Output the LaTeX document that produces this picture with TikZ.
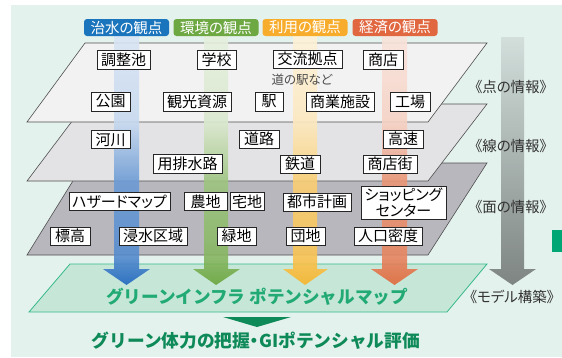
\documentclass[tikz,border=0pt]{standalone}
\usepackage{fontspec}
\setmainfont{Noto Sans CJK JP}
\newfontfamily\jpp{Noto Sans CJK JP}[RawFeature=+palt]
\definecolor{mint}{HTML}{E4F2EE}
\definecolor{cblue}{HTML}{1E66BE}
\definecolor{cgreen}{HTML}{6AA53C}
\definecolor{corange}{HTML}{F7B52A}
\definecolor{cred}{HTML}{E0683A}
\definecolor{lblue}{HTML}{1B75BC}
\definecolor{lgreen}{HTML}{6EA843}
\definecolor{lorange}{HTML}{F8AC2C}
\definecolor{lred}{HTML}{E0673F}
\definecolor{layA}{HTML}{F2F2F2}
\definecolor{layB}{HTML}{E3E3E5}
\definecolor{layC}{HTML}{B8B7BD}
\definecolor{edge}{HTML}{4E4E4E}
\definecolor{mapfill}{HTML}{C6E7D8}
\definecolor{mapedge}{HTML}{35B98A}
\definecolor{maptext}{HTML}{22AA74}
\definecolor{deepgreen}{HTML}{0E8A58}
\definecolor{blockgreen}{HTML}{00A673}
\definecolor{labtext}{HTML}{333333}
\pgfdeclareverticalshading{bandblue}{100bp}{color(0bp)=(cblue); color(25bp)=(cblue); color(31bp)=(cblue!75!white); color(45.9bp)=(cblue!65!white); color(57.7bp)=(cblue!25!white); color(75bp)=(cblue!17!white); color(100bp)=(cblue!17!white)}
\pgfdeclareverticalshading{bandgreen}{100bp}{color(0bp)=(cgreen); color(25bp)=(cgreen); color(31bp)=(cgreen!80!white); color(45.9bp)=(cgreen!65!white); color(57.7bp)=(cgreen!25!white); color(75bp)=(cgreen!17!white); color(100bp)=(cgreen!17!white)}
\pgfdeclareverticalshading{bandorange}{100bp}{color(0bp)=(corange); color(25bp)=(corange); color(31bp)=(corange!80!white); color(45.9bp)=(corange!65!white); color(57.7bp)=(corange!30!white); color(75bp)=(corange!18!white); color(100bp)=(corange!18!white)}
\pgfdeclareverticalshading{bandred}{100bp}{color(0bp)=(cred); color(25bp)=(cred); color(31bp)=(cred!80!white); color(45.9bp)=(cred!70!white); color(57.7bp)=(cred!30!white); color(75bp)=(cred!18!white); color(100bp)=(cred!18!white)}
\begin{document}
\begin{tikzpicture}[x=1pt,y=-1pt,
  tb/.style={draw=black!85, line width=0.7pt, fill=white, inner sep=0pt,
    minimum height=18pt, font=\jpp\fontsize{15}{17}\selectfont},
  view/.style={rounded corners=3pt, minimum width=85pt, minimum height=17pt,
    inner sep=0pt, text=white, font=\jpp\fontsize{14.5}{16}\selectfont},
  side/.style={text=labtext, font=\jpp\fontsize{14.5}{16}\selectfont, inner sep=0pt},
  layer/.style={draw=edge, line width=0.6pt},
  band/.style={fill opacity=0.9}
]
\useasboundingbox (0,0) rectangle (562,357);
% background
\fill[white] (0,0) rectangle (562,357);
\fill[mint] (11,5) rectangle (562,357);
\fill[blockgreen] (552,230) rectangle (562,252);

% gray model arrow
\shade[top color=black!8!mint, bottom color=black!45!mint!90!gray]
  (501,37) -- (524,37) -- (524,269) -- (536,269) -- (512.5,285) -- (489,269) -- (501,269) -- cycle;

% green map layer
\draw[fill=mapfill, draw=mapedge, line width=0.8pt] (70,264) -- (487,264) -- (447,312) -- (29,312) -- cycle;
\node[font=\fontsize{17.6}{19}\selectfont\bfseries, text=maptext, inner sep=0pt] (map) at (257,297) {グリーンインフラ ポテンシャルマップ};

% layers
\draw[layer, fill=layC] (84,163) -- (487,163) -- (428,255) -- (27,255) -- cycle;
\draw[layer, fill=layB] (85,104) -- (487,104) -- (428,181) -- (27,181) -- cycle;
\draw[layer, fill=layA] (85,43) -- (487,43) -- (428,122) -- (27,122) -- cycle;

% view bands / arrows
\shade[band, shading=bandblue] (114,36) -- (139,36) -- (139,269) -- (150,269) -- (126.5,285) -- (103,269) -- (114,269) -- cycle;
\shade[band, shading=bandgreen] (204,36) -- (228,36) -- (228,269) -- (240,269) -- (216,285) -- (193,269) -- (204,269) -- cycle;
\shade[band, shading=bandorange] (293,36) -- (317,36) -- (317,269) -- (328,269) -- (305,285) -- (283,269) -- (293,269) -- cycle;
\shade[band, shading=bandred] (382,36) -- (407,36) -- (407,269) -- (418,269) -- (394.5,285) -- (371,269) -- (382,269) -- cycle;

% view labels
\node[view, fill=lblue] (vb) at (126.5,27.5) {治水の観点};
\node[view, fill=lgreen] (vg) at (216,27.5) {環境の観点};
\node[view, fill=lorange] (vo) at (305,27.5) {利用の観点};
\node[view, fill=lred] (vr) at (395,27.5) {経済の観点};

% layer 1 boxes
\node[tb, minimum width=53pt, minimum height=19pt] (b1) at (123.5,59.5) {調整池};
\node[tb, minimum width=39pt, minimum height=19pt] (b2) at (216.5,59.5) {学校};
\node[tb, minimum width=69pt, minimum height=18pt] (b3) at (307.5,59) {交流拠点};
\node[tb, minimum width=40pt, minimum height=19pt] (b4) at (383,59.5) {商店};
\node[text=black!70, font=\jpp\fontsize{12.5}{14}\selectfont, inner sep=0pt] (michi) at (302,80) {道の駅など};
\node[tb, minimum width=39pt, minimum height=19pt] (b5) at (110.5,101.5) {公園};
\node[tb, minimum width=68pt, minimum height=19pt] (b6) at (197,101.5) {観光資源};
\node[tb, minimum width=28pt, minimum height=19pt] (b7) at (269,101.5) {駅};
\node[tb, minimum width=68pt, minimum height=19pt] (b8) at (340,101.5) {商業施設};
\node[tb, minimum width=40pt, minimum height=19pt] (b9) at (410,101.5) {工場};

% layer 2 boxes
\node[tb, minimum width=39pt] (c1) at (110.5,139.5) {河川};
\node[tb, minimum width=40pt] (c2) at (259,139) {道路};
\node[tb, minimum width=40pt] (c3) at (403,139) {高速};
\node[tb, minimum width=69pt, minimum height=19pt] (c4) at (187.5,163.5) {用排水路};
\node[tb, minimum width=40pt] (c5) at (300,164) {鉄道};
\node[tb, minimum width=54pt] (c6) at (390,164) {商店街};

% layer 3 boxes
\node[tb, minimum width=101pt] (d1) at (119.5,201.5) {ハザードマップ};
\node[tb, minimum width=43pt] (d2) at (205.5,201.5) {農地};
\node[tb, minimum width=34pt] (d3) at (247,201.5) {宅地};
\node[tb, minimum width=68pt] (d4) at (317,202) {都市計画};
\node[tb, minimum width=85pt, minimum height=33pt, align=center, font=\jpp\fontsize{15}{16}\selectfont] (d5) at (403.5,202.5) {ショッピング\\センター};
\node[tb, minimum width=40pt] (d6) at (70,236) {標高};
\node[tb, minimum width=68pt] (d7) at (153,236) {浸水区域};
\node[tb, minimum width=39pt] (d8) at (236.5,236) {緑地};
\node[tb, minimum width=39pt] (d9) at (305.5,236) {団地};
\node[tb, minimum width=68pt] (d10) at (388,236) {人口密度};

% side labels
\node[side] (s1) at (511,87) {《点の情報》};
\node[side] (s2) at (511,146) {《線の情報》};
\node[side] (s3) at (511,207) {《面の情報》};
\node[side] (s4) at (512,297) {《モデル構築》};

% bottom
\fill[deepgreen] (223,317) -- (291,317) -- (257,327) -- cycle;
\node[font=\fontsize{17.7}{19}\selectfont\bfseries, text=deepgreen, inner sep=0pt] (res) at (256,341) {グリーン体力の把握{\jpp ・}GIポテンシャル評価};
\end{tikzpicture}
\end{document}
